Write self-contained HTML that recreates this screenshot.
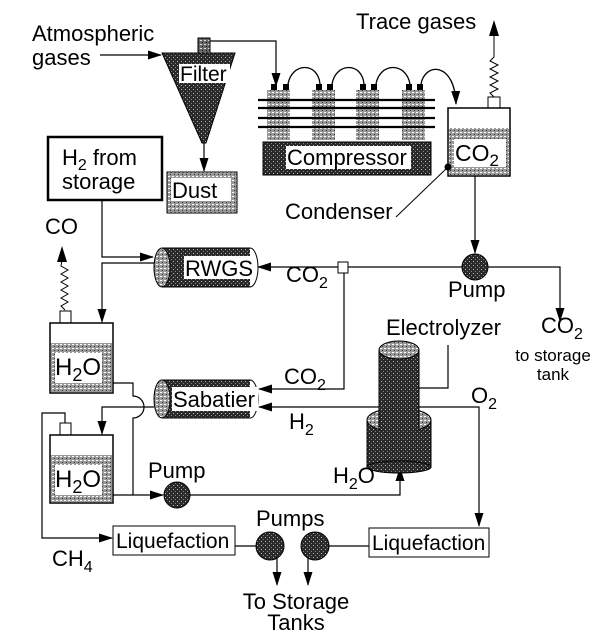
<!DOCTYPE html>
<html><head><meta charset="utf-8"><style>
html,body{margin:0;padding:0;background:#fff;}
svg{display:block;font-family:"Liberation Sans",sans-serif;}
</style></head><body>
<svg width="600" height="639" viewBox="0 0 600 639" xmlns="http://www.w3.org/2000/svg">
<defs>
<marker id="a" viewBox="0 0 14 10" refX="13" refY="5" markerWidth="14" markerHeight="10" orient="auto-start-reverse" markerUnits="userSpaceOnUse"><path d="M0,0.5 L14,5 L0,9.5z" fill="#000"/></marker>
<pattern id="st" width="4" height="4" patternUnits="userSpaceOnUse"><rect width="4" height="4" fill="#666"/><rect x="0" y="0" width="2" height="1" fill="#ddd"/><rect x="2" y="2" width="1" height="1" fill="#111"/></pattern>
<pattern id="lt" width="4" height="4" patternUnits="userSpaceOnUse"><rect width="4" height="4" fill="#999"/><rect x="0" y="0" width="2" height="1" fill="#fff"/><rect x="2" y="2" width="1" height="1" fill="#333"/></pattern>
<pattern id="dk" width="4" height="4" patternUnits="userSpaceOnUse"><rect width="4" height="4" fill="#2a2a2a"/><rect x="1" y="1" width="1" height="1" fill="#bbb"/><rect x="3" y="3" width="1" height="1" fill="#888"/></pattern>
</defs>
<g stroke="#000" fill="none" stroke-width="1.2">
<line x1="100" y1="55" x2="161" y2="55" marker-end="url(#a)"/>
<polyline points="210,41 276,41 276,86" marker-end="url(#a)"/>
<line x1="204" y1="143" x2="204" y2="171" marker-end="url(#a)"/>
</g>
<text x="32" y="41" font-size="22">Atmospheric</text>
<text x="32" y="65" font-size="22">gases</text>
<rect x="198" y="38" width="12" height="15" fill="url(#st)" stroke="#000"/>
<polygon points="162,53 235,53 206,143 202,143" fill="url(#dk)" stroke="#000"/>
<rect x="179" y="64" width="51" height="19" fill="#fff"/>
<text x="180" y="81" font-size="21">Filter</text>
<rect x="167" y="172" width="70" height="41" fill="url(#lt)" stroke="#000"/>
<rect x="171" y="178" width="60" height="23" fill="#fff"/>
<text x="172" y="198" font-size="22">Dust</text>
<rect x="48" y="137" width="114" height="63" fill="#fff" stroke="#000" stroke-width="2.5"/>
<text x="62" y="165" font-size="22">H<tspan font-size="16" dy="5">2</tspan><tspan dy="-5"> from</tspan></text>
<text x="62" y="189" font-size="22">storage</text>
<g>
<rect x="267" y="90" width="23" height="50" fill="url(#lt)"/>
<rect x="312" y="90" width="23" height="50" fill="url(#lt)"/>
<rect x="356" y="90" width="23" height="50" fill="url(#lt)"/>
<rect x="402" y="90" width="23" height="50" fill="url(#lt)"/>
<g fill="#000">
<rect x="271" y="84" width="6" height="6"/><rect x="283" y="84" width="6" height="6"/>
<rect x="316" y="84" width="6" height="6"/><rect x="327" y="84" width="6" height="6"/>
<rect x="360" y="84" width="6" height="6"/><rect x="371" y="84" width="6" height="6"/>
<rect x="406" y="84" width="6" height="6"/><rect x="417" y="84" width="6" height="6"/>
</g>
<g stroke="#000" stroke-width="2.2">
<line x1="258" y1="100" x2="435" y2="100"/><line x1="258" y1="108" x2="435" y2="108"/>
<line x1="258" y1="118" x2="435" y2="118"/><line x1="258" y1="127" x2="435" y2="127"/>
</g>
<g stroke="#000" fill="none" stroke-width="1.3">
<path d="M288,84 C292,62 318,62 320,84"/>
<path d="M332,84 C336,62 362,62 364,84"/>
<path d="M376,84 C380,62 406,62 410,84"/>
<path d="M421,84 C425,62 455,62 456,104" marker-end="url(#a)"/>
</g>
<rect x="263" y="142" width="168" height="33" fill="url(#dk)" stroke="#000"/>
<rect x="286" y="146" width="125" height="23" fill="#fff"/>
<text x="287" y="165" font-size="22">Compressor</text>
</g>
<rect x="488" y="97" width="12" height="11" fill="#fff" stroke="#000"/>
<rect x="448" y="108" width="62" height="68" fill="#fff" stroke="#000" stroke-width="1.5"/>
<rect x="449" y="128" width="60" height="47" fill="url(#lt)"/>
<rect x="454" y="139" width="52" height="28" fill="#fff"/>
<text x="455" y="161" font-size="23">CO<tspan font-size="17" dy="5">2</tspan></text>
<path d="M494,97 l-4,-4 l8,-4 l-8,-4 l8,-4 l-8,-4 l8,-4 l-8,-4 l8,-4 l-8,-4 l4,-4 L494,34" stroke="#000" fill="none"/>
<path d="M489,36 L494,20 L499,36z" fill="#000"/>
<text x="356" y="29" font-size="22">Trace gases</text>
<circle cx="448" cy="167" r="3.5" fill="#000"/>
<line x1="448" y1="167" x2="396" y2="217" stroke="#000"/>
<text x="285" y="219" font-size="22">Condenser</text>
<g stroke="#000" fill="none" stroke-width="1.2">
<line x1="475" y1="176" x2="475" y2="253" marker-end="url(#a)"/>
<polyline points="488,267 560,267 560,321" marker-end="url(#a)"/>
<line x1="462" y1="267" x2="258" y2="267" marker-end="url(#a)"/>
<polyline points="344,272 344,389 259,389" marker-end="url(#a)"/>
<polyline points="102,200 102,257 153,257" marker-end="url(#a)"/>
<polyline points="154,263 102,263 102,322" marker-end="url(#a)"/>
</g>
<circle cx="475" cy="267" r="13" fill="url(#dk)" stroke="#000"/>
<rect x="338" y="262" width="10" height="11" fill="#fff" stroke="#000"/>
<text x="448" y="297" font-size="22">Pump</text>
<text x="286" y="282" font-size="22">CO<tspan font-size="16" dy="6">2</tspan></text>
<rect x="162" y="248" width="88" height="39" fill="url(#dk)"/>
<path d="M162,248 L250,248 A8,19.5 0 0 1 250,287 L162,287" fill="none" stroke="#000"/>
<ellipse cx="162" cy="267.5" rx="8" ry="19.5" fill="url(#lt)" stroke="#000"/>
<rect x="184" y="256" width="70" height="23" fill="#fff"/>
<text x="185" y="276" font-size="22">RWGS</text>
<text x="45" y="234" font-size="22">CO</text>
<path d="M65,310 l-4,-4 l7,-4 l-7,-4 l7,-4 l-7,-4 l7,-4 l-7,-4 l7,-4 l-7,-4 l7,-4 l-7,-4 L62,260" stroke="#000" fill="none"/>
<path d="M57,262 L62,246 L67,262z" fill="#000"/>
<rect x="60" y="311" width="11" height="12" fill="#fff" stroke="#000"/>
<rect x="50" y="323" width="63" height="70" fill="#fff" stroke="#000" stroke-width="1.5"/>
<rect x="51" y="343" width="61" height="49" fill="url(#lt)"/>
<rect x="55" y="353" width="47" height="30" fill="#fff"/>
<text x="55" y="375" font-size="24">H<tspan font-size="18" dy="6">2</tspan><tspan dy="-6">O</tspan></text>
<rect x="60" y="423" width="11" height="12" fill="#fff" stroke="#000"/>
<rect x="50" y="435" width="63" height="68" fill="#fff" stroke="#000" stroke-width="1.5"/>
<rect x="51" y="455" width="61" height="47" fill="url(#lt)"/>
<rect x="55" y="465" width="47" height="30" fill="#fff"/>
<text x="55" y="487" font-size="24">H<tspan font-size="18" dy="6">2</tspan><tspan dy="-6">O</tspan></text>
<g stroke="#000" fill="none" stroke-width="1.2">
<path d="M113,383 L133,383 L133,396 A11,11 0 0 1 133,418 L133,495"/>
<polyline points="154,407 102,407 102,434" marker-end="url(#a)"/>
<line x1="113" y1="495" x2="163" y2="495" marker-end="url(#a)"/>
<polyline points="190,495 400,495 400,468" marker-end="url(#a)"/>
<polyline points="65,423 65,413 42,413 42,538 112,538" marker-end="url(#a)"/>
<line x1="379" y1="407" x2="259" y2="407" marker-end="url(#a)"/>
<polyline points="448,345 448,388 419,388"/>
<polyline points="419,407 479,407 479,526" marker-end="url(#a)"/>
<line x1="235" y1="546" x2="256" y2="546"/>
<line x1="329" y1="546" x2="369" y2="546"/>
<line x1="277" y1="558" x2="277" y2="585" marker-end="url(#a)"/>
<line x1="308" y1="558" x2="308" y2="585" marker-end="url(#a)"/>
</g>
<circle cx="177" cy="495" r="13" fill="url(#dk)" stroke="#000"/>
<text x="148" y="478" font-size="22">Pump</text>
<rect x="162" y="380" width="88" height="38" fill="url(#dk)"/>
<path d="M162,380 L250,380 A8,19 0 0 1 250,418 L162,418" fill="none" stroke="#000"/>
<ellipse cx="162" cy="399" rx="8" ry="19" fill="url(#lt)" stroke="#000"/>
<rect x="172" y="387" width="86" height="24" fill="#fff"/>
<text x="173" y="407" font-size="22">Sabatier</text>
<text x="284" y="384" font-size="22">CO<tspan font-size="16" dy="6">2</tspan></text>
<text x="289" y="429" font-size="22">H<tspan font-size="16" dy="6">2</tspan></text>
<rect x="367" y="420" width="64" height="47" fill="url(#dk)" stroke="#000"/>
<ellipse cx="399" cy="467" rx="32" ry="6" fill="url(#dk)" stroke="#000"/>
<ellipse cx="399" cy="420" rx="32" ry="12" fill="url(#lt)" stroke="#000"/>
<rect x="379" y="350" width="40" height="78" fill="url(#dk)" stroke="#000"/>
<ellipse cx="399" cy="428" rx="20" ry="5" fill="url(#dk)"/>
<ellipse cx="399" cy="350" rx="20" ry="9" fill="url(#lt)" stroke="#000"/>
<text x="386" y="335" font-size="22">Electrolyzer</text>
<text x="333" y="483" font-size="22">H<tspan font-size="16" dy="6">2</tspan><tspan dy="-6">O</tspan></text>
<text x="471" y="403" font-size="22">O<tspan font-size="16" dy="6">2</tspan></text>
<text x="541" y="333" font-size="22">CO<tspan font-size="16" dy="6">2</tspan></text>
<text x="553" y="361" font-size="17" text-anchor="middle">to storage</text>
<text x="553" y="380" font-size="17" text-anchor="middle">tank</text>
<rect x="113" y="526" width="122" height="29" fill="#fff" stroke="#000"/>
<text x="116" y="548" font-size="21">Liquefaction</text>
<rect x="369" y="528" width="120" height="29" fill="#fff" stroke="#000"/>
<text x="372" y="550" font-size="21">Liquefaction</text>
<text x="52" y="566" font-size="22">CH<tspan font-size="16" dy="6">4</tspan></text>
<circle cx="270" cy="546" r="14" fill="url(#dk)" stroke="#000"/>
<circle cx="315" cy="546" r="14" fill="url(#dk)" stroke="#000"/>
<text x="256" y="526" font-size="22">Pumps</text>
<text x="296" y="609" font-size="22" text-anchor="middle">To Storage</text>
<text x="296" y="630" font-size="22" text-anchor="middle">Tanks</text>
</svg>
</body></html>
